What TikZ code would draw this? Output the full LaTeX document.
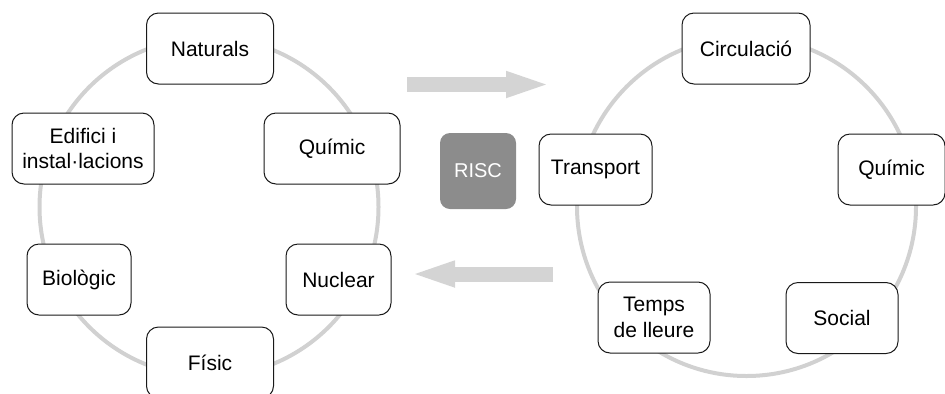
\documentclass[tikz,border=0pt]{standalone}
\usepackage{fontspec}
\setmainfont{Liberation Sans}
\usetikzlibrary{arrows.meta}

\begin{document}
\begin{tikzpicture}[x=0.5pt,y=0.5pt,tipus/.style={draw=black!90,fill=white,line width=0.5pt,rounded corners=6pt,minimum height=35.5pt,inner sep=0pt,align=center,font=\fontsize{10.5}{12.8}\selectfont},cercle/.style={draw=black!18,line width=2pt},fletxa/.style={black!17,line width=7.5pt,-{Triangle[length=23pt,width=11.5pt]}},riscbox/.style={fill=black!45,rounded corners=5pt,minimum size=38pt,inner sep=0pt,text=white,font=\fontsize{10}{12}\selectfont}]
\def\ringaX{209};
\def\ringaY{186};
\def\ringbX{746.5};
\def\ringbY{186.5};
\def\ringR{169.5};

\useasboundingbox (0,0) rectangle (945,393);

\draw[cercle] (\ringaX,\ringaY) circle (\ringR);
\draw[cercle] (\ringbX,\ringbY) circle (\ringR);

\node[tipus,minimum width=63.5pt] (ringaNat) at (210,344.5) {Naturals};
\node[tipus,minimum width=71pt] (ringaEdi) at (83,244.5) {Edifici i\\instal·lacions};
\node[tipus,minimum width=68pt] (ringaQui) at (332,244.5) {Químic};
\node[tipus,minimum width=52pt] (ringaBio) at (79,113.5) {Biològic};
\node[tipus,minimum width=52.5pt] (ringaNuc) at (338.5,113.5) {Nuclear};
\node[tipus,minimum width=63.5pt] (ringaFis) at (210,30.5) {Físic};

\node[tipus,minimum width=64pt] (ringbCir) at (746,344.5) {Circulació};
\node[tipus,minimum width=56.5pt] (ringbTra) at (595.5,223.5) {Transport};
\node[tipus,minimum width=53.5pt] (ringbQui) at (891.5,223.5) {Químic};
\node[tipus,minimum width=56pt] (ringbTem) at (654,75.5) {Temps\\de lleure};
\node[tipus,minimum width=56pt] (ringbSoc) at (842,75) {Social};

\node[riscbox] (risc) at (478,222) {RISC};

\coordinate (anadaA) at (407,308.5);
\coordinate (anadaB) at (552,308.5);
\coordinate (tornaA) at (553,119);
\coordinate (tornaB) at (409,119);
\draw[fletxa] (anadaA) -- (anadaB);
\draw[fletxa] (tornaA) -- (tornaB);
\end{tikzpicture}
\end{document}
